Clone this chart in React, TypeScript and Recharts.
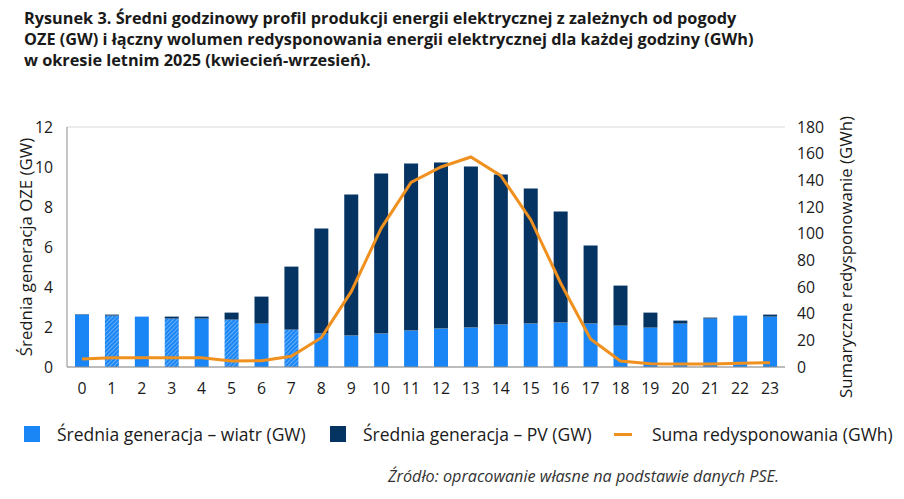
import React from 'react';
import {
  ComposedChart,
  Bar,
  Line,
  XAxis,
  YAxis,
  CartesianGrid,
  Cell,
} from 'recharts';

/* ------------------------------------------------------------------ */
/* Data                                                                */
/* ------------------------------------------------------------------ */

const HOURS = [
  '0', '1', '2', '3', '4', '5', '6', '7', '8', '9', '10', '11',
  '12', '13', '14', '15', '16', '17', '18', '19', '20', '21', '22', '23',
];

/** Średnia generacja – wiatr (GW) */
const WIND = [
  2.62, 2.57, 2.52, 2.42, 2.42, 2.37, 2.17, 1.87, 1.67, 1.57, 1.67, 1.82,
  1.92, 1.97, 2.12, 2.17, 2.22, 2.17, 2.07, 1.97, 2.17, 2.42, 2.57, 2.52,
];

/** Średnia generacja – PV (GW) */
const PV = [
  0.02, 0.05, 0, 0.1, 0.1, 0.35, 1.35, 3.15, 5.25, 7.05, 8.0, 8.35,
  8.3, 8.05, 7.5, 6.75, 5.55, 3.9, 2.0, 0.75, 0.15, 0.05, 0, 0.1,
];

/** Suma redysponowania (GWh) */
const REDISPATCH = [
  6, 7, 7, 7, 7, 4.5, 4.75, 8, 22, 56.5, 104, 138.5,
  150, 157.5, 143.5, 110.5, 63, 21, 4.5, 2.5, 2.25, 2.25, 2.75, 3.25,
];

/** hours whose wind bar is drawn hatched */
const HATCHED_HOURS = ['1', '3', '5', '7'];

const LEFT_TICKS = [0, 2, 4, 6, 8, 10, 12];
const RIGHT_TICKS = [0, 20, 40, 60, 80, 100, 120, 140, 160, 180];

const data = HOURS.map((hour, i) => ({
  hour,
  wind: WIND[i],
  pv: PV[i],
  redispatch: REDISPATCH[i],
}));

/* ------------------------------------------------------------------ */
/* Style                                                               */
/* ------------------------------------------------------------------ */

const FONT = '"Open Sans", "DejaVu Sans", sans-serif';
const WIND_COLOR = '#1a86f5';
const PV_COLOR = '#053462';
const LINE_COLOR = '#f0901e';
const GRID_COLOR = '#d9d9d9';
const AXIS_COLOR = '#8c8c8c';
const TEXT_COLOR = '#1a1a1a';

const tickStyle = { fontSize: 15.8, fill: TEXT_COLOR, fontFamily: FONT };
const axisTitleStyle = { fontSize: 16.8, fill: TEXT_COLOR, fontFamily: FONT, textAnchor: 'middle' as const };

function LegendItem({
  left,
  color,
  line,
  label,
}: {
  left: number;
  color: string;
  line?: boolean;
  label: string;
}) {
  return (
    <div style={{ position: 'absolute', left, top: 0, display: 'flex', alignItems: 'center', height: 18 }}>
      {line ? (
        <span style={{ display: 'inline-block', width: 18, height: 3, background: color, marginRight: 20 }} />
      ) : (
        <span style={{ display: 'inline-block', width: 16, height: 16, background: color, marginRight: 17 }} />
      )}
      <span style={{ whiteSpace: 'nowrap' }}>{label}</span>
    </div>
  );
}

export default function App() {
  return (
    <div
      style={{
        position: 'absolute',
        left: 0,
        top: 0,
        width: 904,
        height: 499,
        background: '#fff',
        fontFamily: FONT,
        color: TEXT_COLOR,
      }}
    >
      <div
        style={{
          position: 'absolute',
          left: 24,
          top: 8,
          fontSize: 16.3,
          fontWeight: 700,
          lineHeight: '21px',
          width: 880,
          whiteSpace: 'nowrap',
        }}
      >
        Rysunek 3. Średni godzinowy profil produkcji energii elektrycznej z zależnych od pogody
        <br />
        OZE (GW) i łączny wolumen redysponowania energii elektrycznej dla każdej godziny (GWh)
        <br />
        w okresie letnim 2025 (kwiecień-wrzesień).
      </div>

      <div style={{ position: 'absolute', left: 0, top: 0 }}>
        <ComposedChart
          width={904}
          height={420}
          data={data}
          margin={{ top: 127, right: 59, bottom: 23, left: 22 }}
          barGap={0}
        >
          <defs>
            <pattern
              id="windHatch"
              patternUnits="userSpaceOnUse"
              width={3}
              height={3}
              patternTransform="rotate(45)"
            >
              <rect width={3} height={3} fill={WIND_COLOR} />
              <line x1={0} y1={0} x2={0} y2={3} stroke="#a9d2fb" strokeWidth={1.1} />
            </pattern>
          </defs>
          <CartesianGrid stroke={GRID_COLOR} vertical={false} />
          <XAxis
            dataKey="hour"
            height={30}
            tick={tickStyle}
            tickLine={false}
            axisLine={{ stroke: AXIS_COLOR }}
            tickMargin={10}
            interval={0}
          />
          <YAxis
            yAxisId="gw"
            width={45}
            domain={[0, 12]}
            ticks={LEFT_TICKS}
            tick={tickStyle}
            tickLine={false}
            axisLine={{ stroke: AXIS_COLOR }}
            tickMargin={8}
            label={{
              value: 'Średnia generacja OZE (GW)',
              angle: -90,
              position: 'center',
              dx: -18,
              style: axisTitleStyle,
            }}
          />
          <YAxis
            yAxisId="gwh"
            orientation="right"
            width={60}
            domain={[0, 180]}
            ticks={RIGHT_TICKS}
            tick={{ ...tickStyle, textAnchor: 'start' }}
            tickLine={false}
            axisLine={false}
            tickMargin={6}
            label={{
              value: 'Sumaryczne redysponowanie (GWh)',
              angle: -90,
              position: 'center',
              dx: 31,
              dy: 10,
              style: axisTitleStyle,
            }}
          />
          <Bar
            yAxisId="gw"
            dataKey="wind"
            stackId="oze"
            fill={WIND_COLOR}
            barSize={14}
            isAnimationActive={false}
          >
            {data.map((d) => (
              <Cell
                key={d.hour}
                fill={HATCHED_HOURS.includes(d.hour) ? 'url(#windHatch)' : WIND_COLOR}
              />
            ))}
          </Bar>
          <Bar
            yAxisId="gw"
            dataKey="pv"
            stackId="oze"
            fill={PV_COLOR}
            barSize={14}
            isAnimationActive={false}
          />
          <Line
            yAxisId="gwh"
            type="linear"
            dataKey="redispatch"
            stroke={LINE_COLOR}
            strokeWidth={3}
            dot={false}
            activeDot={false}
            isAnimationActive={false}
          />
        </ComposedChart>
      </div>

      <div style={{ position: 'absolute', left: 0, top: 425, width: 904, height: 18, fontSize: 17.5 }}>
        <LegendItem left={24} color={WIND_COLOR} label="Średnia generacja – wiatr (GW)" />
        <LegendItem left={330} color={PV_COLOR} label="Średnia generacja – PV (GW)" />
        <LegendItem left={614} color={LINE_COLOR} line label="Suma redysponowania (GWh)" />
      </div>

      <div
        style={{
          position: 'absolute',
          left: 388,
          top: 465,
          fontSize: 16.2,
          fontStyle: 'italic',
          color: '#333',
          whiteSpace: 'nowrap',
        }}
      >
        Źródło: opracowanie własne na podstawie danych PSE.
      </div>
    </div>
  );
}
